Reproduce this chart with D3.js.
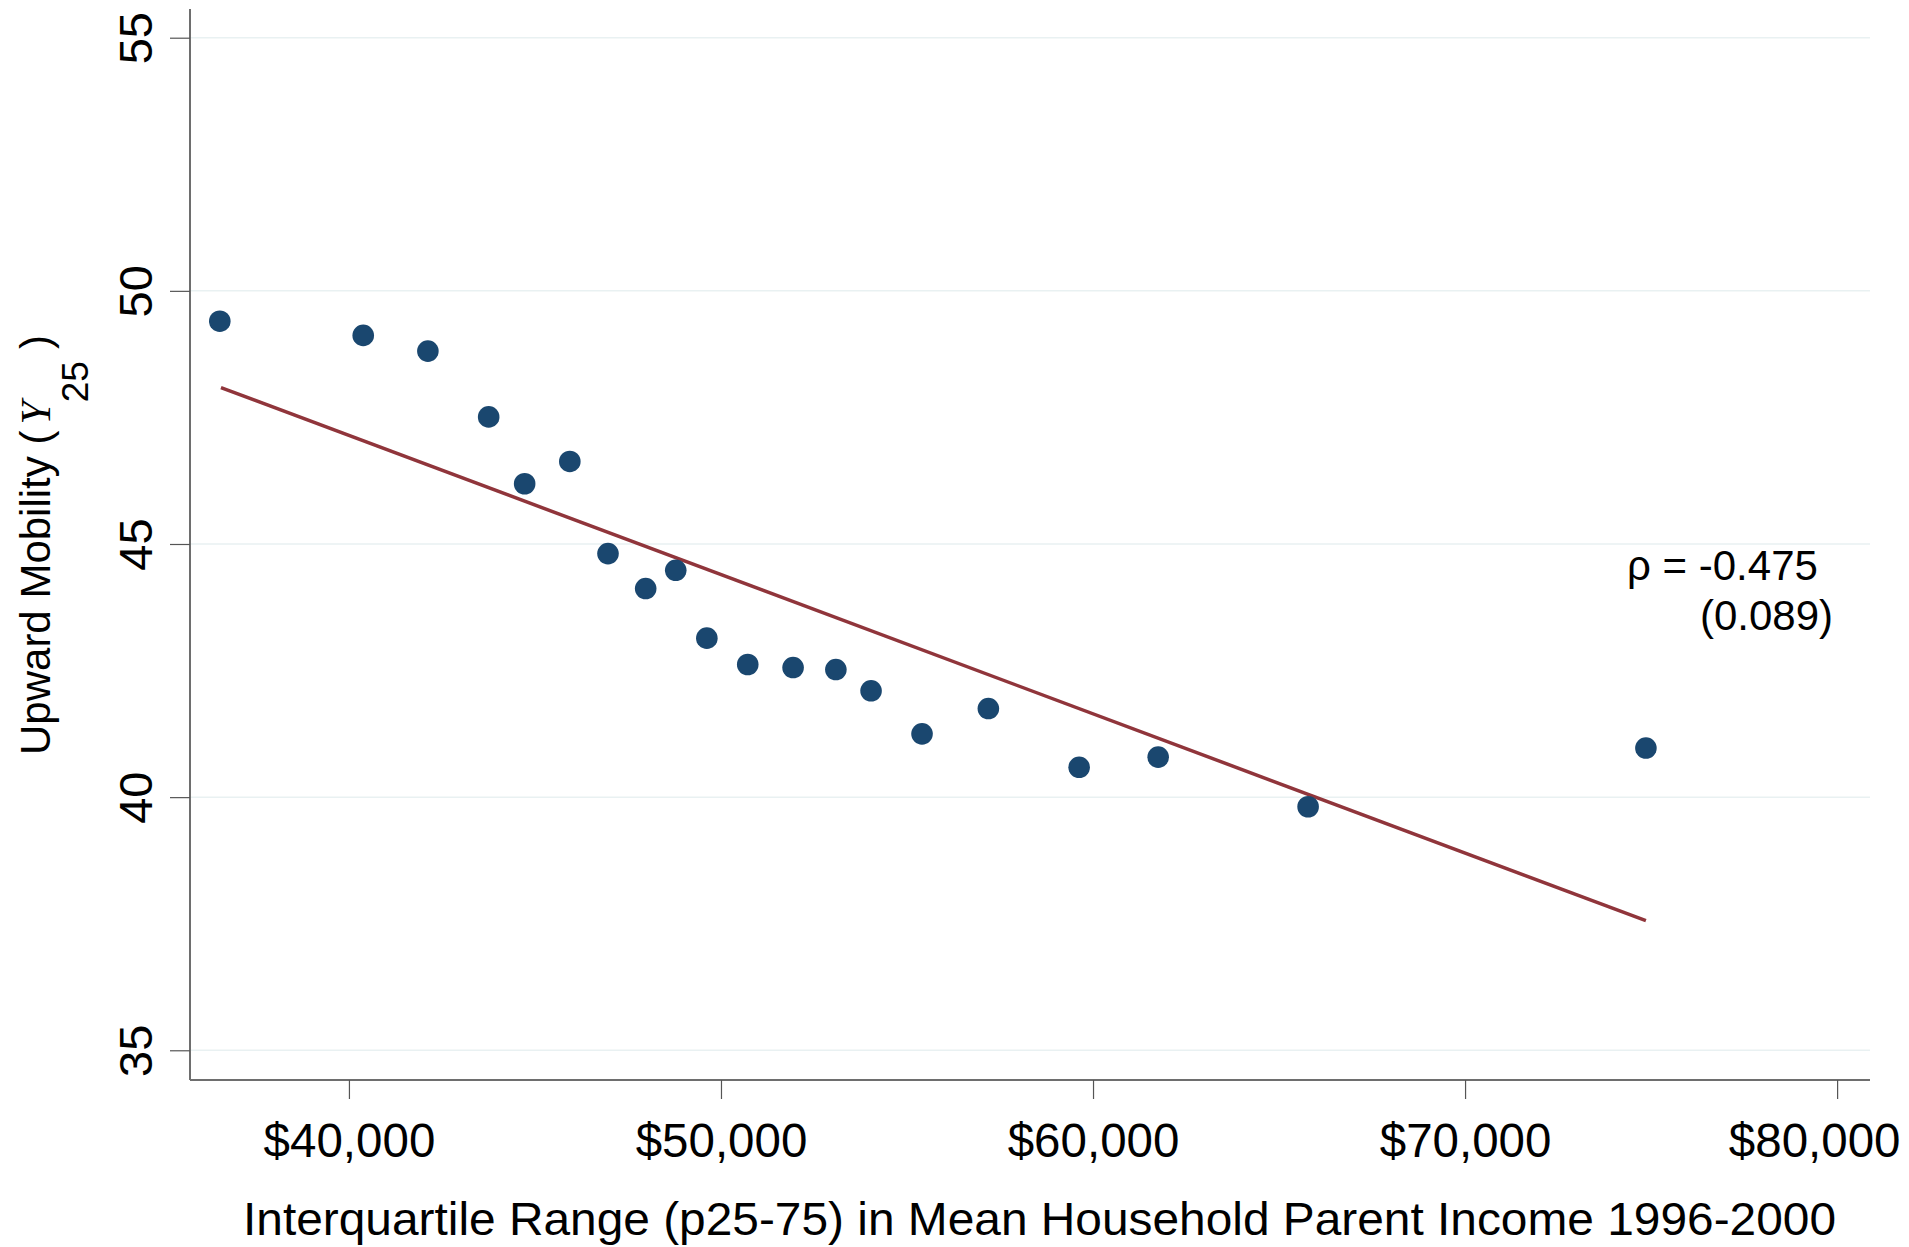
<!DOCTYPE html>
<html>
<head>
<meta charset="utf-8">
<script src="https://cdn.jsdelivr.net/npm/d3@7"></script>
<style>
  html, body { margin: 0; padding: 0; background: #fff; }
  svg { display: block; font-family: "Liberation Sans", Arial, Helvetica, sans-serif; }
</style>
</head>
<body>
<svg id="chart" width="1909" height="1247"></svg>
<script>
// ---- Data ----
const incomeIQR = [36529, 40384, 42122, 43756, 44723, 45937, 46963, 47976, 48784, 49620,
                   50719, 51938, 53088, 54034, 55404, 57187, 59627, 61751, 65781, 74861];
const upwardMobility = [49.40, 49.12, 48.81, 47.51, 46.19, 46.63, 44.81, 44.12, 44.48, 43.14,
                        42.62, 42.56, 42.52, 42.10, 41.25, 41.75, 40.59, 40.79, 39.81, 40.97];
const fitX = [36560, 74861];
const fitY = [48.09, 37.56];
const xTicks = [40000, 50000, 60000, 70000, 80000];
const yTicks = [35, 40, 45, 50, 55];
const annotationLines = ["\u03c1 = -0.475", "(0.089)"];
const xTitle = "Interquartile Range (p25-75) in Mean Household Parent Income 1996-2000";

// ---- Layout ----
const W = 1909;
const svg = d3.select("#chart");
const plot = { left: 190, right: 1870, top: 9, bottom: 1080 };
const x = d3.scaleLinear().domain([35728, 80884]).range([plot.left, plot.right]);
const y = d3.scaleLinear().domain([34.413, 55.567]).range([plot.bottom, plot.top]);

const navy = "#1a476f", maroon = "#90353b", grid = "#e9f1f2", axisCol = "#6e6e6e";
const font = "'Liberation Sans', Arial, sans-serif";

// gridlines
svg.append("g").selectAll("line").data(yTicks).join("line")
  .attr("x1", plot.left).attr("x2", plot.right)
  .attr("y1", d => y(d)).attr("y2", d => y(d))
  .attr("stroke", grid).attr("stroke-width", 1.5);

// x axis
const xAxis = svg.append("g").attr("transform", `translate(0,${plot.bottom})`)
  .call(d3.axisBottom(x).tickValues(xTicks).tickFormat(d3.format("$,")).tickSize(19).tickSizeOuter(0));
xAxis.select(".domain").attr("stroke", axisCol).attr("stroke-width", 2)
  .attr("d", `M${plot.left},0H${plot.right}`);
xAxis.selectAll(".tick line").attr("stroke", "#555").attr("stroke-width", 1.2);
xAxis.selectAll(".tick text").attr("y", 77).attr("dy", 0)
  .attr("font-size", 47.5).attr("fill", "#000").attr("font-family", font)
  .each(function () {
    // keep label inside the picture, as the reference does for the last label
    const b = this.getBBox();
    const tx = x(d3.select(this.parentNode).datum());
    const right = tx + b.x + b.width;
    if (right > W - 9) d3.select(this).attr("x", (W - 9) - right);
  });

// y axis
const yAxis = svg.append("g").attr("transform", `translate(${plot.left},0)`)
  .call(d3.axisLeft(y).tickValues(yTicks).tickSize(20).tickSizeOuter(0));
yAxis.select(".domain").attr("stroke", axisCol).attr("stroke-width", 2)
  .attr("d", `M0,${plot.top}V${plot.bottom}`);
yAxis.selectAll(".tick line").attr("stroke", "#555").attr("stroke-width", 1.2);
yAxis.selectAll(".tick text")
  .attr("x", 0).attr("dy", 0)
  .attr("transform", "translate(-38,0) rotate(-90)")
  .attr("text-anchor", "middle")
  .attr("font-size", 47).attr("fill", "#000").attr("font-family", font);

// fit line
svg.append("path")
  .datum(fitX.map((d, i) => [d, fitY[i]]))
  .attr("d", d3.line().x(d => x(d[0])).y(d => y(d[1])))
  .attr("stroke", maroon).attr("stroke-width", 3.5).attr("fill", "none");

// points
svg.append("g").selectAll("circle").data(incomeIQR.map((d, i) => [d, upwardMobility[i]]))
  .join("circle")
  .attr("cx", d => x(d[0])).attr("cy", d => y(d[1]))
  .attr("r", 10.8).attr("fill", navy);

// annotation
const ann = svg.append("g").attr("font-size", 42).attr("fill", "#000");
ann.append("text").attr("x", 1627).attr("y", 580).text(annotationLines[0]);
ann.append("text").attr("x", 1700).attr("y", 630).text(annotationLines[1]);

// x title
svg.append("text")
  .attr("x", 243).attr("y", 1235)
  .attr("font-size", 46).attr("fill", "#000")
  .attr("textLength", 1593).attr("lengthAdjust", "spacingAndGlyphs")
  .text(xTitle);

// y title (rotated)
const yt = svg.append("text")
  .attr("transform", "translate(50,755) rotate(-90)")
  .attr("font-size", 42).attr("fill", "#000");
yt.append("tspan").text("Upward Mobility (");
yt.append("tspan").attr("dx", 6).attr("font-family", "'Liberation Serif', 'Times New Roman', serif")
  .attr("font-style", "italic").text("Y");
yt.append("tspan").attr("dx", -1).attr("dy", 38).attr("font-size", 37).text("25");
yt.append("tspan").attr("dx", 12).attr("dy", -38).text(")");
</script>
</body>
</html>
